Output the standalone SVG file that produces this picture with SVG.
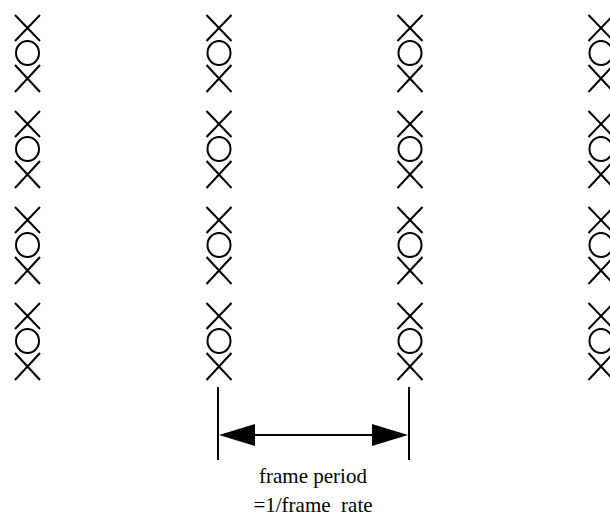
<svg xmlns="http://www.w3.org/2000/svg" xmlns:xlink="http://www.w3.org/1999/xlink" width="610" height="518" viewBox="0 0 610 518">
<style>
.s{fill:none;stroke:#000;stroke-width:2}
.t{font-family:"Liberation Serif",serif;font-size:21px;fill:#000;text-anchor:middle}
</style>
<defs>
<g id="xox">
<path class="s" d="M-12.5,0 L12.5,26 M12.5,0 L-12.5,26"/>
<ellipse class="s" cx="0" cy="38" rx="11.5" ry="12"/>
<path class="s" d="M-12.5,50 L12.5,77 M12.5,50 L-12.5,77"/>
</g>
<g id="col">
<use xlink:href="#xox" y="15"/>
<use xlink:href="#xox" y="111"/>
<use xlink:href="#xox" y="207"/>
<use xlink:href="#xox" y="303"/>
</g>
</defs>
<g id="column1"><use xlink:href="#col" x="27.5"/></g>
<g id="column2"><use xlink:href="#col" x="219"/></g>
<g id="column3"><use xlink:href="#col" x="410"/></g>
<g id="column4"><use xlink:href="#col" x="601"/></g>
<g id="connectors">
<line class="s" x1="218" y1="387" x2="218" y2="460"/>
<line class="s" x1="409" y1="387" x2="409" y2="460"/>
<line class="s" x1="250" y1="435" x2="377" y2="435"/>
<polygon points="219,435 255,424 255,446" fill="#000"/>
<polygon points="408,435 372,424 372,446" fill="#000"/>
</g>
<g id="label">
<text class="t" x="313" y="483">frame period</text>
<text class="t" x="313" y="512" xml:space="preserve">=1/frame  rate</text>
</g>
</svg>
